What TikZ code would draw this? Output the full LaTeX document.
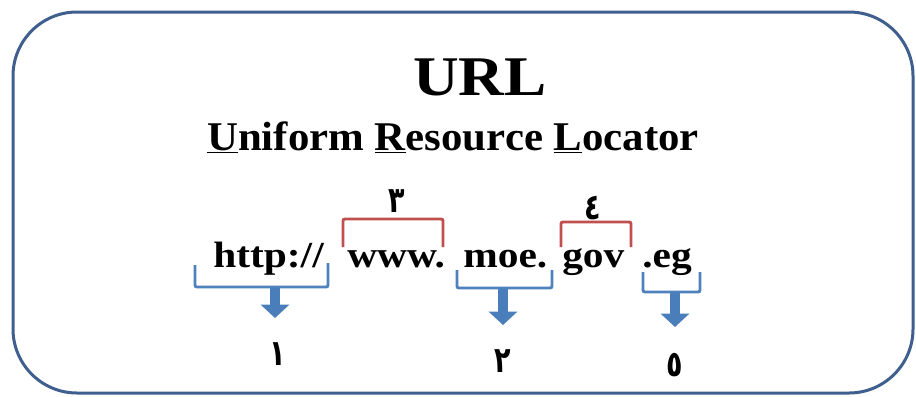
\documentclass[tikz,border=0pt]{standalone}
\usepackage{fontspec}
\setmainfont{Liberation Serif}
\newfontfamily\arabicfont[Script=Arabic]{DejaVu Sans}
\TeXXeTstate=1
\usetikzlibrary{arrows.meta}
\definecolor{framecol}{HTML}{3F5F8F}
\definecolor{bluebr}{HTML}{4F81BD}
\definecolor{redbr}{HTML}{C0504D}
\definecolor{arrcol}{HTML}{4A7EBB}
\newcommand\arabdigit[1]{\scalebox{0.75}[1]{\beginR #1\endR}}
\tikzset{
  framebox/.style={draw=framecol, line width=2.25pt, rounded corners=48pt},
  bluebracket/.style={draw=bluebr, line width=2.2pt, rounded corners=1.5pt},
  redbracket/.style={draw=redbr, line width=2.2pt, rounded corners=1.5pt},
  blockarrow/.style={draw=arrcol, line width=7.5pt, -{Triangle[width=21pt,length=10pt]}},
  urlpart/.style={anchor=base west, inner sep=0pt, font=\bfseries\fontsize{27.5}{28}\selectfont},
  digit/.style={inner sep=0pt, font=\arabicfont\bfseries\fontsize{27}{27}\selectfont},
}
\begin{document}
\begin{tikzpicture}[x=0.75pt,y=-0.75pt]
\useasboundingbox (0,0) rectangle (916,396);
\fill[white] (0,0) rectangle (916,396);
\draw[framebox] (13,12) rectangle (913,393);

\node[anchor=base, inner sep=0pt, font=\bfseries\fontsize{42}{42}\selectfont] (title) at (480,95) {\scalebox{1.13}[1]{URL}};
\node[anchor=base, inner sep=0pt, font=\bfseries\fontsize{30.6}{31}\selectfont] (subtitle) at (453,150)
  {\scalebox{1.05}[1]{\underline{U}niform \underline{R}esource \underline{L}ocator}};

\node[urlpart] (http) at (213,267) {\scalebox{1.13}[1]{http://}};
\node[urlpart] (www) at (347,267) {\scalebox{1.13}[1]{www.}};
\node[urlpart] (moe) at (463,267) {\scalebox{1.13}[1]{moe.}};
\node[urlpart] (gov) at (562,267) {\scalebox{1.13}[1]{gov}};
\node[urlpart] (eg) at (642,267) {\scalebox{1.13}[1]{.eg}};

% red brackets above
\draw[redbracket] (343,247) -- (343,219) -- (443,219) -- (443,247);
\draw[redbracket] (561,247) -- (561,222) -- (631,222) -- (631,247);
\node[digit] (d3) at (397,201) {\arabdigit{٣}};
\node[digit] (d4) at (593,208) {\arabdigit{٤}};

% blue brackets below
\draw[bluebracket] (195,265) -- (195,287) -- (328,287) -- (328,263);
\draw[bluebracket] (457,270) -- (457,288) -- (552,288) -- (552,270);
\draw[bluebracket] (643,272) -- (643,292) -- (700,292) -- (700,272);

\coordinate (s1) at (275,288);
\coordinate (e1) at (275,318);
\coordinate (s2) at (503,289);
\coordinate (e2) at (503,325);
\coordinate (s5) at (675,293);
\coordinate (e5) at (675,327);
\draw[blockarrow] (s1) -- (e1);
\draw[blockarrow] (s2) -- (e2);
\draw[blockarrow] (s5) -- (e5);

\node[digit] (d1) at (278,354) {\arabdigit{١}};
\node[digit] (d2) at (503,361) {\arabdigit{٢}};
\node[digit] (d5) at (675,365) {\arabdigit{٥}};
\end{tikzpicture}
\end{document}
